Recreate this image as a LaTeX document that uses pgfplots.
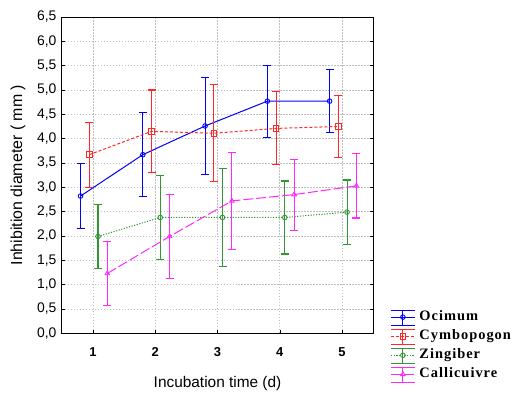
\documentclass[border=0pt]{standalone}
\usepackage{fontspec}
\setmainfont{Liberation Sans}
\newfontfamily\legfont[LetterSpace=7]{Liberation Serif}
\usepackage{pgfplots}
\usepackage{pgfplotstable}
\pgfplotsset{compat=1.18}
\definecolor{cO}{RGB}{0,0,255}
\definecolor{cC}{RGB}{255,40,40}
\definecolor{cZ}{RGB}{50,150,50}
\definecolor{cK}{RGB}{255,40,255}
\definecolor{gridc}{RGB}{190,190,190}

\pgfplotstableread{
x y e
0.80 2.82 0.67
1.80 3.67 0.86
2.80 4.26 1.00
3.80 4.77 0.74
4.80 4.77 0.65
}\tO
\pgfplotstableread{
x y e
0.94 3.67 0.67
1.94 4.15 0.85
2.94 4.11 1.00
3.94 4.21 0.75
4.94 4.25 0.64
}\tC
\pgfplotstableread{
x y e
1.08 1.99 0.66
2.08 2.38 0.86
3.08 2.38 1.00
4.08 2.38 0.75
5.08 2.49 0.66
}\tZ
\pgfplotstableread{
x y e
1.23 1.23 0.66
2.23 1.99 0.86
3.23 2.72 1.00
4.23 2.85 0.73
5.23 3.03 0.66
}\tK

\pgfplotsset{
  myleg/.style n args={4}{% color, line style, mark, mark size
    legend image code/.code={%
      \draw[draw=#1, solid, line width=1.1bp] (0bp,7bp) -- (24bp,7bp);
      \draw[draw=#1, solid, line width=1.1bp] (0bp,-8bp) -- (24bp,-8bp);
      \draw[draw=#1, solid, line width=1.1bp] (12bp,-8bp) -- (12bp,7bp);
      \draw[draw=#1, #2, line width=1bp] (0bp,0bp) -- (24bp,0bp);
      \path[draw=#1, solid, line width=0.9bp, fill=white] plot[mark=#3, mark size=#4] coordinates {(12bp,0bp)};
    }
  },
  ebar/.style={error bars/.cd, y dir=both, y explicit,
    draw error bar/.code 2 args={%
      \draw[draw=#1, solid, line width=1.1bp] ##1 -- ##2;
      \draw[draw=#1, solid, line width=1.1bp] ##2 ++(-4bp,0bp) -- ++(8bp,0bp);
    }},
}

\begin{document}
\begin{tikzpicture}
\begin{axis}[
  width=312bp, height=317bp, scale only axis,
  xmin=0.5, xmax=5.5, ymin=0, ymax=6.5,
  xtick={1,2,3,4,5},
  ytick={0,0.5,...,6.5},
  grid=major,
  major grid style={gridc, dash pattern=on 1.5bp off 1.5bp, line width=0.8bp},
  tick align=inside,
  xtick pos=bottom, ytick pos=both,
  major tick length=3bp,
  tick style={black, line width=0.6bp},
  axis line style={black, line width=0.9bp},
  /pgf/number format/assume math mode=true,
  /pgf/number format/.cd, fixed, fixed zerofill, precision=1, use comma, /pgfplots/.cd,
  yticklabel style={font=\fontsize{14}{16}\selectfont, anchor=east, xshift=-2bp},
  xticklabel style={font=\bfseries\fontsize{13}{15}\selectfont, anchor=center, yshift=-19bp},
  xticklabel={\pgfmathprintnumber[fixed, precision=0]{\tick}},
  xlabel={Incubation time (d)},
  ylabel={Inhibition diameter ( mm )},
  xlabel style={font=\fontsize{15.5}{18}\selectfont, at={(axis description cs:0.5,-0.158)}, anchor=center},
  ylabel style={font=\fontsize{16}{18}\selectfont, at={(axis description cs:-0.141,0.5)}, anchor=center},
  every axis plot/.append style={line width=1bp},
  legend style={at={(axis description cs:1,0.0755)}, anchor=north west, xshift=17bp,
    draw=none, fill=none, inner sep=0pt, row sep=3bp,
    font=\legfont\bfseries\fontsize{14.5}{16}\selectfont,
    nodes={inner sep=1bp, text height=10bp, text depth=3bp},
    /tikz/every odd column/.append style={column sep=3bp}},
  legend cell align=left,
]
\coordinate (O) at (rel axis cs:0,0);
\addplot[cO, solid, mark=o, mark size=2.3bp, mark options={solid, fill=white, line width=0.9bp},
  myleg={cO}{solid}{o}{2.3bp}, ebar=cO]
  table[x=x, y=y, y error=e] {\tO};
\addlegendentry{Ocimum}
\addplot[cC, dash pattern=on 3bp off 2bp, mark=square, mark size=2.8bp, mark options={solid, fill=white, line width=0.9bp},
  myleg={cC}{dash pattern=on 3bp off 2bp}{square}{2.8bp}, ebar=cC]
  table[x=x, y=y, y error=e] {\tC};
\addlegendentry{Cymbopogon}
\addplot[cZ, dash pattern=on 1.2bp off 1.5bp, mark=o, mark size=2.3bp, mark options={solid, fill=white, line width=0.9bp},
  myleg={cZ}{dash pattern=on 1.2bp off 1.5bp}{o}{2.3bp}, ebar=cZ]
  table[x=x, y=y, y error=e] {\tZ};
\addlegendentry{Zingiber}
\addplot[cK, dash pattern=on 10bp off 3bp, mark=triangle, mark size=2.6bp, mark options={solid, fill=white, line width=0.9bp},
  myleg={cK}{dash pattern=on 10bp off 3bp}{triangle}{2.6bp}, ebar=cK]
  table[x=x, y=y, y error=e] {\tK};
\addlegendentry{Callicuivre}
\end{axis}
\path ([shift={(-62bp,-59bp)}]O) rectangle ++(512bp,393bp);
\end{tikzpicture}
\end{document}
